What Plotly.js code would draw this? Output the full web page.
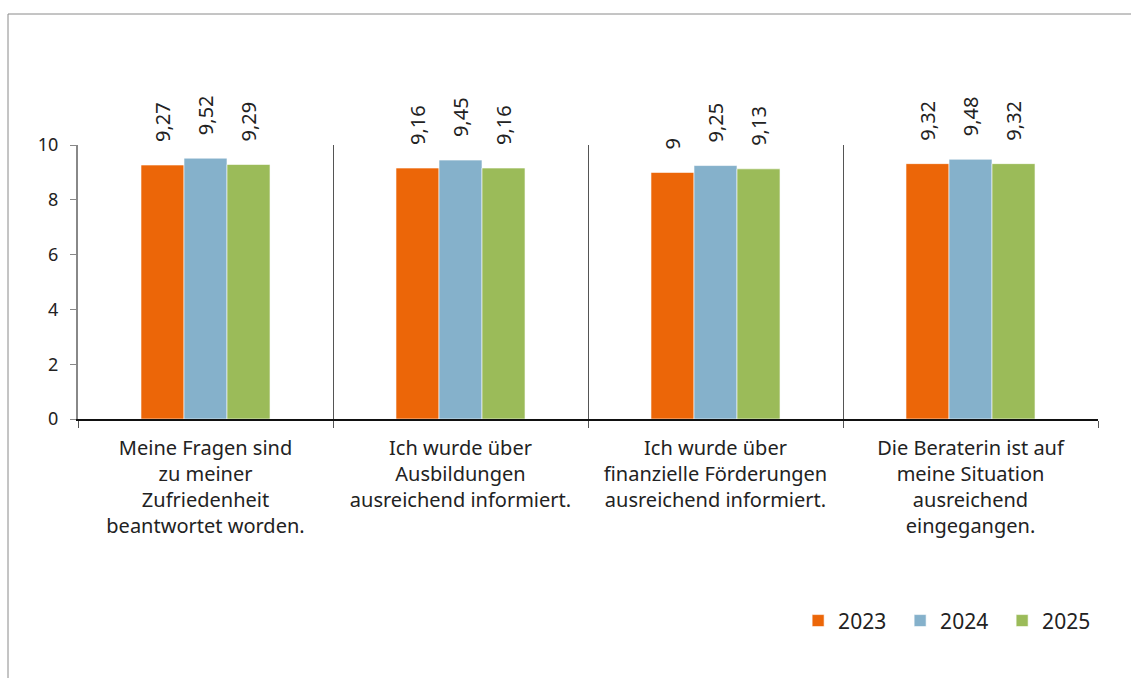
<!DOCTYPE html>
<html><head><meta charset="utf-8">
<script src="https://cdn.plot.ly/plotly-3.0.1.min.js"></script>
<style>html,body{margin:0;padding:0;background:#fff}#chart{width:1131px;height:678px}</style>
</head><body><div id="chart"></div>
<script>
const categories = [
  "Meine Fragen sind<br>zu meiner<br>Zufriedenheit<br>beantwortet worden.",
  "Ich wurde über<br>Ausbildungen<br>ausreichend informiert.",
  "Ich wurde über<br>finanzielle Förderungen<br>ausreichend informiert.",
  "Die Beraterin ist auf<br>meine Situation<br>ausreichend<br>eingegangen."
];
const years = ["2023", "2024", "2025"];
const values2023 = [9.27, 9.16, 9.00, 9.32];
const values2024 = [9.52, 9.45, 9.25, 9.48];
const values2025 = [9.29, 9.16, 9.13, 9.32];
const colors = ["#EC6608", "#85B1CB", "#9BBB59"];
const yTicks = [0, 2, 4, 6, 8, 10];

const series = [values2023, values2024, values2025];
const fontFam = "'Noto Sans', 'Open Sans', sans-serif";
const fmt = v => "\u2003" + String(v).replace('.', ',');

const data = series.map((vals, i) => ({
  type: 'bar',
  name: years[i],
  x: categories,
  y: vals,
  text: vals.map(fmt),
  textposition: 'outside',
  textangle: -90,
  textfont: {family: fontFam, size: 20, color: '#222'},
  constraintext: 'none',
  cliponaxis: false,
  hoverinfo: 'none',
  marker: {color: colors[i], line: {color: 'rgba(255,255,255,0.6)', width: 1}}
}));

const layout = {
  width: 1131, height: 678,
  margin: {l: 78, r: 33, t: 145, b: 259},
  paper_bgcolor: '#fff', plot_bgcolor: '#fff',
  font: {family: fontFam, size: 18, color: '#222'},
  barmode: 'group',
  bargap: 0.494,
  bargroupgap: 0,
  showlegend: true,
  legend: {orientation: 'h', x: 0.706, xanchor: 'left', y: -0.737, yanchor: 'middle',
           font: {family: fontFam, size: 21, color: '#222'}, traceorder: 'normal',
           itemwidth: 30, entrywidth: 57, entrywidthmode: 'pixels'},
  xaxis: {
    tickson: 'boundaries', ticks: 'outside', ticklen: 7, tickcolor: '#555',
    showgrid: true, gridcolor: '#555', gridwidth: 1,
    showline: true, linecolor: '#111', linewidth: 1.5,
    tickfont: {family: fontFam, size: 20, color: '#222'},
    ticklabelstandoff: 10,
    fixedrange: true, automargin: false
  },
  yaxis: {
    range: [0, 10], tickvals: yTicks, ticktext: yTicks.map(String),
    ticks: 'outside', ticklen: 6, tickcolor: '#888',
    showgrid: false, zeroline: false,
    showline: true, linecolor: '#888', linewidth: 2,
    tickfont: {family: fontFam, size: 18, color: '#222'},
    ticklabelstandoff: 8,
    fixedrange: true, automargin: false
  },
  shapes: [{
    type: 'rect', xref: 'paper', yref: 'paper',
    x0: (8 - 78) / 1020, x1: 1.2,
    y0: -1.5, y1: (419 - 14) / 274,
    line: {color: '#8a8a8a', width: 1}, fillcolor: 'rgba(0,0,0,0)', layer: 'below'
  }]
};

Plotly.newPlot('chart', data, layout, {displayModeBar: false, staticPlot: true});
</script></body></html>
